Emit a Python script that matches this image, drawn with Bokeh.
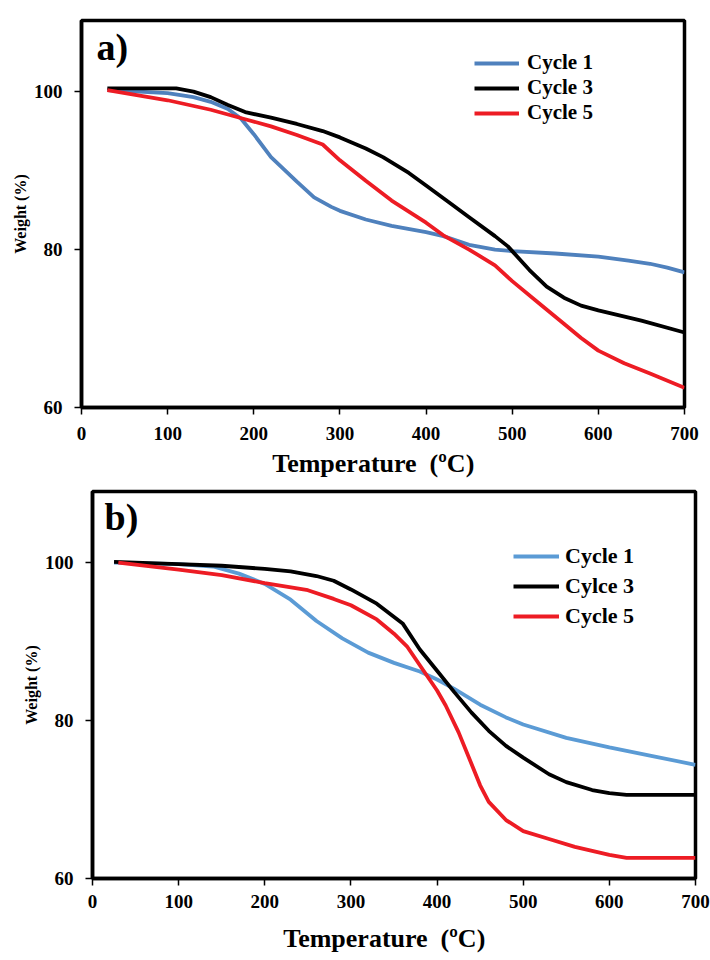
from bokeh.plotting import figure
from bokeh.models import Range1d, Legend, LegendItem, Label, FixedTicker, Spacer
from bokeh.layouts import column, row
from bokeh.embed import file_html
from bokeh.resources import INLINE

# ---------------- data: panel a ----------------
temp_a1 = [30, 50, 100, 130, 150, 170, 185, 200, 220, 250, 270, 290, 300, 330, 360, 400, 420, 450, 480, 500, 550, 600, 635, 660, 680, 700]
wt_a1 = [100.2, 100.1, 99.8, 99.3, 98.7, 97.8, 96.6, 94.6, 91.7, 88.6, 86.6, 85.4, 84.9, 83.8, 83.0, 82.2, 81.7, 80.6, 80.0, 79.8, 79.5, 79.1, 78.6, 78.2, 77.7, 77.1]

temp_a3 = [30, 110, 130, 150, 170, 190, 220, 250, 280, 300, 330, 350, 380, 400, 430, 450, 480, 495, 500, 520, 540, 560, 580, 600, 650, 700]
wt_a3 = [100.4, 100.4, 100.0, 99.3, 98.3, 97.4, 96.7, 95.9, 95.0, 94.2, 92.8, 91.7, 89.7, 88.1, 85.7, 84.1, 81.7, 80.4, 79.8, 77.4, 75.3, 73.9, 72.9, 72.3, 71.0, 69.5]

temp_a5 = [30, 100, 150, 190, 220, 250, 280, 300, 330, 360, 400, 420, 450, 480, 500, 530, 560, 580, 600, 630, 660, 700]
wt_a5 = [100.2, 98.9, 97.7, 96.5, 95.6, 94.5, 93.3, 91.3, 88.7, 86.2, 83.4, 81.8, 80.0, 78.0, 76.0, 73.3, 70.6, 68.8, 67.2, 65.6, 64.3, 62.5]

# ---------------- data: panel b ----------------
temp_b1 = [25, 100, 140, 170, 200, 230, 260, 290, 320, 350, 380, 400, 420, 450, 480, 500, 550, 600, 650, 700]
wt_b1 = [100.0, 99.8, 99.5, 98.6, 97.3, 95.3, 92.6, 90.4, 88.6, 87.3, 86.2, 85.2, 84.0, 82.0, 80.4, 79.5, 77.8, 76.6, 75.5, 74.4]

temp_b3 = [25, 100, 150, 200, 230, 260, 280, 300, 330, 360, 380, 400, 420, 440, 460, 480, 500, 530, 550, 580, 600, 620, 700]
wt_b3 = [100.1, 99.8, 99.6, 99.2, 98.9, 98.3, 97.7, 96.6, 94.8, 92.3, 89.0, 86.3, 83.6, 81.0, 78.7, 76.8, 75.3, 73.2, 72.2, 71.2, 70.8, 70.6, 70.6]

temp_b5 = [30, 100, 150, 200, 250, 280, 300, 330, 350, 365, 380, 400, 410, 425, 440, 450, 460, 480, 500, 530, 560, 600, 620, 700]
wt_b5 = [100.0, 99.1, 98.4, 97.4, 96.5, 95.4, 94.6, 92.8, 91.0, 89.4, 87.0, 83.8, 81.9, 78.5, 74.5, 71.8, 69.7, 67.4, 66.0, 65.0, 64.0, 63.0, 62.6, 62.6]

x_ticks = [0, 100, 200, 300, 400, 500, 600, 700]
y_ticks = [60, 80, 100]
x_title = "Temperature\u00a0\u00a0(\u00baC)\u00a0\u00a0\u00a0"
y_title = "Weight (%)"

FONT = "Liberation Serif"


def make_panel(height, bt, bb, series, labels, colors, tag, tag_pos,
               leg_loc, leg_spacing, leg_h, leg_font, leg_glyph_w, leg_standoff,
               xtick_standoff, xlab_standoff):
    p = figure(width=699, height=height, output_backend="svg", toolbar_location=None,
               x_range=Range1d(0, 700), y_range=Range1d(60, 109),
               min_border_left=81, min_border_right=15, min_border_top=bt, min_border_bottom=bb)
    p.xgrid.visible = False
    p.ygrid.visible = False
    p.outline_line_color = "black"
    p.outline_line_width = 3.5
    p.background_fill_color = "white"
    p.border_fill_color = "white"

    for ax in (p.xaxis[0], p.yaxis[0]):
        ax.axis_line_width = 3.5
        ax.axis_line_color = "black"
        ax.major_tick_in = 0
        ax.major_tick_out = 7
        ax.major_tick_line_width = 1.5
        ax.minor_tick_line_color = None
        ax.major_label_text_font = FONT
        ax.major_label_text_font_style = "bold"
        ax.major_label_text_font_size = "19px"
        ax.major_label_text_color = "black"
        ax.axis_label_text_font = FONT
        ax.axis_label_text_font_style = "bold"
        ax.axis_label_text_color = "black"
    p.xaxis.ticker = FixedTicker(ticks=x_ticks)
    p.yaxis.ticker = FixedTicker(ticks=y_ticks)
    p.xaxis.axis_label = x_title
    p.xaxis.axis_label_text_font_size = "26px"
    p.xaxis.axis_label_standoff = xlab_standoff
    p.xaxis.major_label_standoff = xtick_standoff
    p.yaxis.axis_label = y_title
    p.yaxis.axis_label_text_font_size = "16px"
    p.yaxis.axis_label_standoff = 2
    p.yaxis.major_label_standoff = 12

    items = []
    for (xs, ys), lab, col in zip(series, labels, colors):
        r = p.line(xs, ys, line_color=col, line_width=3.8)
        items.append(LegendItem(label=lab, renderers=[r]))

    leg = Legend(items=items, location=leg_loc)
    leg.border_line_color = None
    leg.background_fill_alpha = 0
    leg.padding = 0
    leg.margin = 0
    leg.spacing = leg_spacing
    leg.glyph_width = leg_glyph_w
    leg.glyph_height = leg_h
    leg.label_height = leg_h
    leg.label_standoff = leg_standoff
    leg.label_text_font = FONT
    leg.label_text_font_style = "bold"
    leg.label_text_font_size = leg_font
    leg.label_text_color = "black"
    p.add_layout(leg)

    p.add_layout(Label(x=tag_pos[0], y=tag_pos[1], x_units="screen", y_units="screen",
                       text=tag, text_font=FONT, text_font_style="bold",
                       text_font_size="38px", text_color="black"))
    return p


pa = make_panel(484, 20, 77,
                [(temp_a1, wt_a1), (temp_a3, wt_a3), (temp_a5, wt_a5)],
                ["Cycle 1", "Cycle 3", "Cycle 5"],
                ["#4F81BD", "#000000", "#ED1C24"],
                "a)", (15, 340), (393, 282), 0, 22, "21px", 45, 8, 12, 6)

pb = make_panel(475, 7, 81,
                [(temp_b1, wt_b1), (temp_b3, wt_b3), (temp_b5, wt_b5)],
                ["Cycle 1", "Cylce 3", "Cycle 5"],
                ["#5B9BD5", "#000000", "#ED1C24"],
                "b)", (12, 341), (421, 249), 4, 26, "22px", 46, 6, 9, 13)

layout = column(pa, row(Spacer(width=11, height=475), pb, spacing=0), spacing=0)
open("out.html", "w").write(file_html(layout, INLINE))
